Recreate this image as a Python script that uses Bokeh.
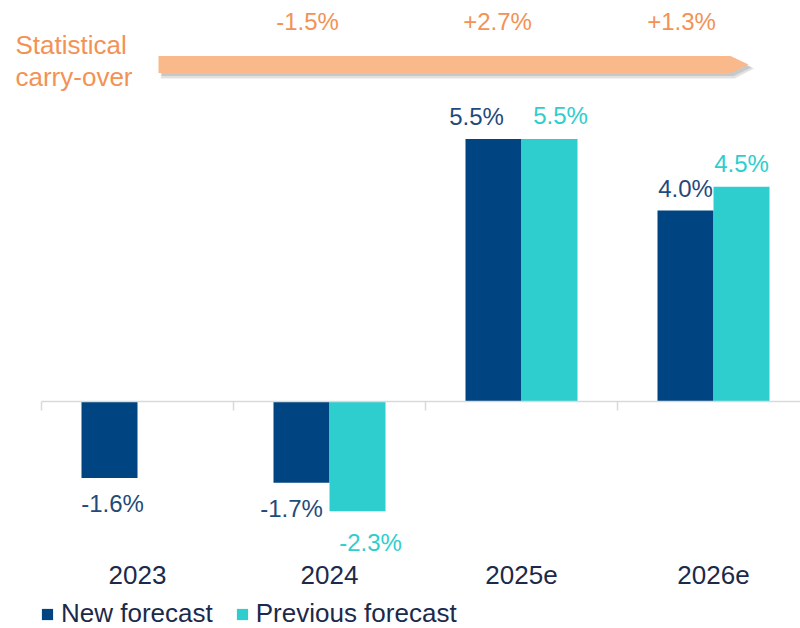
import numpy as np
from bokeh.plotting import figure
from bokeh.models import (ColumnDataSource, Range1d, LinearAxis, FixedTicker,
                          Legend, LegendItem)
from bokeh.transform import dodge
from bokeh.core.properties import value
from bokeh.embed import file_html
from bokeh.resources import INLINE

# ---------------- data ----------------
years = ["2023", "2024", "2025e", "2026e"]
new_forecast = [-1.6, -1.7, 5.5, 4.0]
previous_forecast = [None, -2.3, 5.5, 4.5]
carry_years = ["2024", "2025e", "2026e"]
carry_over = [-1.5, 2.7, 1.3]
series_names = ["New forecast", "Previous forecast"]
carry_title = ["Statistical", "carry-over"]

# ---------------- styles ----------------
NAVY = "#004481"
TURQ = "#2ECECE"
NAVY_TXT = "#1F4A7C"
TXT = "#1B2A4A"
ORANGE = "#F39255"
PEACH = "#F9B98A"
AXIS_GREY = "#D9D9D9"
FONT = value("Liberation Sans")
BASE_FIX = -9     # svg baseline correction (px)

W, H = 800, 628
PX_X = 192.0      # pixels per category
PX_Y = 47.75      # pixels per percentage point
ZERO_PX = 401.0   # zero line position from top of canvas
LEFT_PX = 41.0    # first category boundary from left of canvas

x_start = -0.5 - LEFT_PX / PX_X
x_end = x_start + W / PX_X
y_end = ZERO_PX / PX_Y
y_start = y_end - H / PX_Y

p = figure(width=W, height=H, x_range=Range1d(x_start, x_end),
           y_range=Range1d(y_start, y_end), output_backend="svg",
           toolbar_location=None, x_axis_type=None, y_axis_type=None,
           min_border=0, min_border_left=0, min_border_right=0,
           min_border_top=0, min_border_bottom=0, outline_line_color=None)
p.title.visible = False
p.background_fill_color = "white"
p.border_fill_color = "white"

BAR_W = 56.0 / PX_X
DODGE = BAR_W / 2

n = len(years)
centers = list(range(n))
prev_vals = [np.nan if v is None else v for v in previous_forecast]

src = ColumnDataSource(dict(
    x=centers,
    new=new_forecast,
    prev=prev_vals,
    new_lbl=[f"{v:.1f}%" for v in new_forecast],
    prev_lbl=["" if v is None else f"{v:.1f}%" for v in previous_forecast],
    new_dy=[(35 if v < 0 else -13) + BASE_FIX for v in new_forecast],
    prev_dy=[(40 if (v is not None and v < 0) else -14) + BASE_FIX for v in previous_forecast],
    new_dx=[3, -10, -17, 0],
    prev_dx=[0, 13, 11, 0],
))

r_new = p.vbar(x=dodge("x", -DODGE), top="new", bottom=0, width=BAR_W,
               fill_color=NAVY, line_color=None, source=src)
r_prev = p.vbar(x=dodge("x", DODGE), top="prev", bottom=0, width=BAR_W,
                fill_color=TURQ, line_color=None, source=src)

p.text(x=dodge("x", -DODGE), y="new", text="new_lbl", source=src,
       x_offset="new_dx", y_offset="new_dy", text_align="center",
       text_baseline="alphabetic", text_font=FONT, text_font_size="24px",
       text_color=NAVY_TXT)
p.text(x=dodge("x", DODGE), y="prev", text="prev_lbl", source=src,
       x_offset="prev_dx", y_offset="prev_dy", text_align="center",
       text_baseline="alphabetic", text_font=FONT, text_font_size="24px",
       text_color=TURQ)

# ---------------- statistical carry-over arrow ----------------
ARROW_Y = (ZERO_PX - 64) / PX_Y
HALF = 8.5 / PX_Y
AX0 = -0.5 + (158 - LEFT_PX) / PX_X
AX1 = -0.5 + (730 - LEFT_PX) / PX_X
AX2 = -0.5 + (748 - LEFT_PX) / PX_X

def arrow_shape(dx=0.0, dy=0.0, grow=0.0):
    g = grow / PX_Y
    gx = grow / PX_X
    xs = [AX0 - gx, AX1, AX2 + gx, AX1, AX0 - gx]
    ys = [ARROW_Y + HALF + g, ARROW_Y + HALF + g, ARROW_Y, ARROW_Y - HALF - g, ARROW_Y - HALF - g]
    return [x + dx for x in xs], [y + dy for y in ys]

for off, grow, alpha in [(4, 2, 0.10), (4, 1, 0.15), (3, 0, 0.25)]:
    xs, ys = arrow_shape(off / PX_X, -off / PX_Y, grow)
    p.patch(xs, ys, fill_color="#7F7F7F", fill_alpha=alpha, line_color=None)
xs, ys = arrow_shape()
p.patch(xs, ys, fill_color=PEACH, line_color=None)

carry_src = ColumnDataSource(dict(
    x=[years.index(y) for y in carry_years],
    y=[ARROW_Y] * len(carry_years),
    lbl=[f"{v:+.1f}%" for v in carry_over],
    dx=[-22, -24, -32],
))
p.text(x="x", y="y", text="lbl", source=carry_src, x_offset="dx",
       y_offset=-34 + BASE_FIX, text_align="center", text_baseline="alphabetic",
       text_font=FONT, text_font_size="24px", text_color=ORANGE)

title_src = ColumnDataSource(dict(
    x=[x_start] * len(carry_title), y=[ARROW_Y] * len(carry_title),
    t=carry_title, dy=[-11 + BASE_FIX, 21 + BASE_FIX],
))
p.text(x="x", y="y", text="t", source=title_src, x_offset=15, y_offset="dy",
       text_align="left", text_baseline="alphabetic", text_font=FONT,
       text_font_size="26px", text_color=ORANGE)

# ---------------- axes ----------------
zero_axis = LinearAxis(fixed_location=0,
                       ticker=FixedTicker(ticks=[c - 0.5 for c in centers] + [n - 0.5]),
                       bounds=(-0.5, n - 0.5),
                       axis_line_color=AXIS_GREY, axis_line_width=1.5,
                       major_tick_line_color=AXIS_GREY, major_tick_line_width=1.5,
                       major_tick_out=9, major_tick_in=0,
                       minor_tick_line_color=None, major_label_text_color=None)
p.add_layout(zero_axis, "below")

cat_axis = LinearAxis(fixed_location=0, ticker=FixedTicker(ticks=centers),
                      major_label_overrides={c: y for c, y in zip(centers, years)},
                      axis_line_color=None, major_tick_line_color=None,
                      minor_tick_line_color=None, major_tick_out=0, major_tick_in=0,
                      major_label_standoff=164, major_label_text_font="Liberation Sans",
                      major_label_text_font_size="26px", major_label_text_color=TXT)
p.add_layout(cat_axis, "below")

# ---------------- legend ----------------
legend = Legend(items=[LegendItem(label=series_names[0], renderers=[r_new]),
                       LegendItem(label=series_names[1], renderers=[r_prev])],
                orientation="horizontal", location=(40, -1),
                label_text_font="Liberation Sans", label_text_font_size="26px",
                label_text_color=TXT, glyph_width=14, glyph_height=14,
                label_height=14, label_standoff=7, spacing=22, padding=0,
                margin=0, border_line_color=None, background_fill_alpha=0)
p.add_layout(legend)

open("out.html", "w").write(file_html(p, INLINE))
